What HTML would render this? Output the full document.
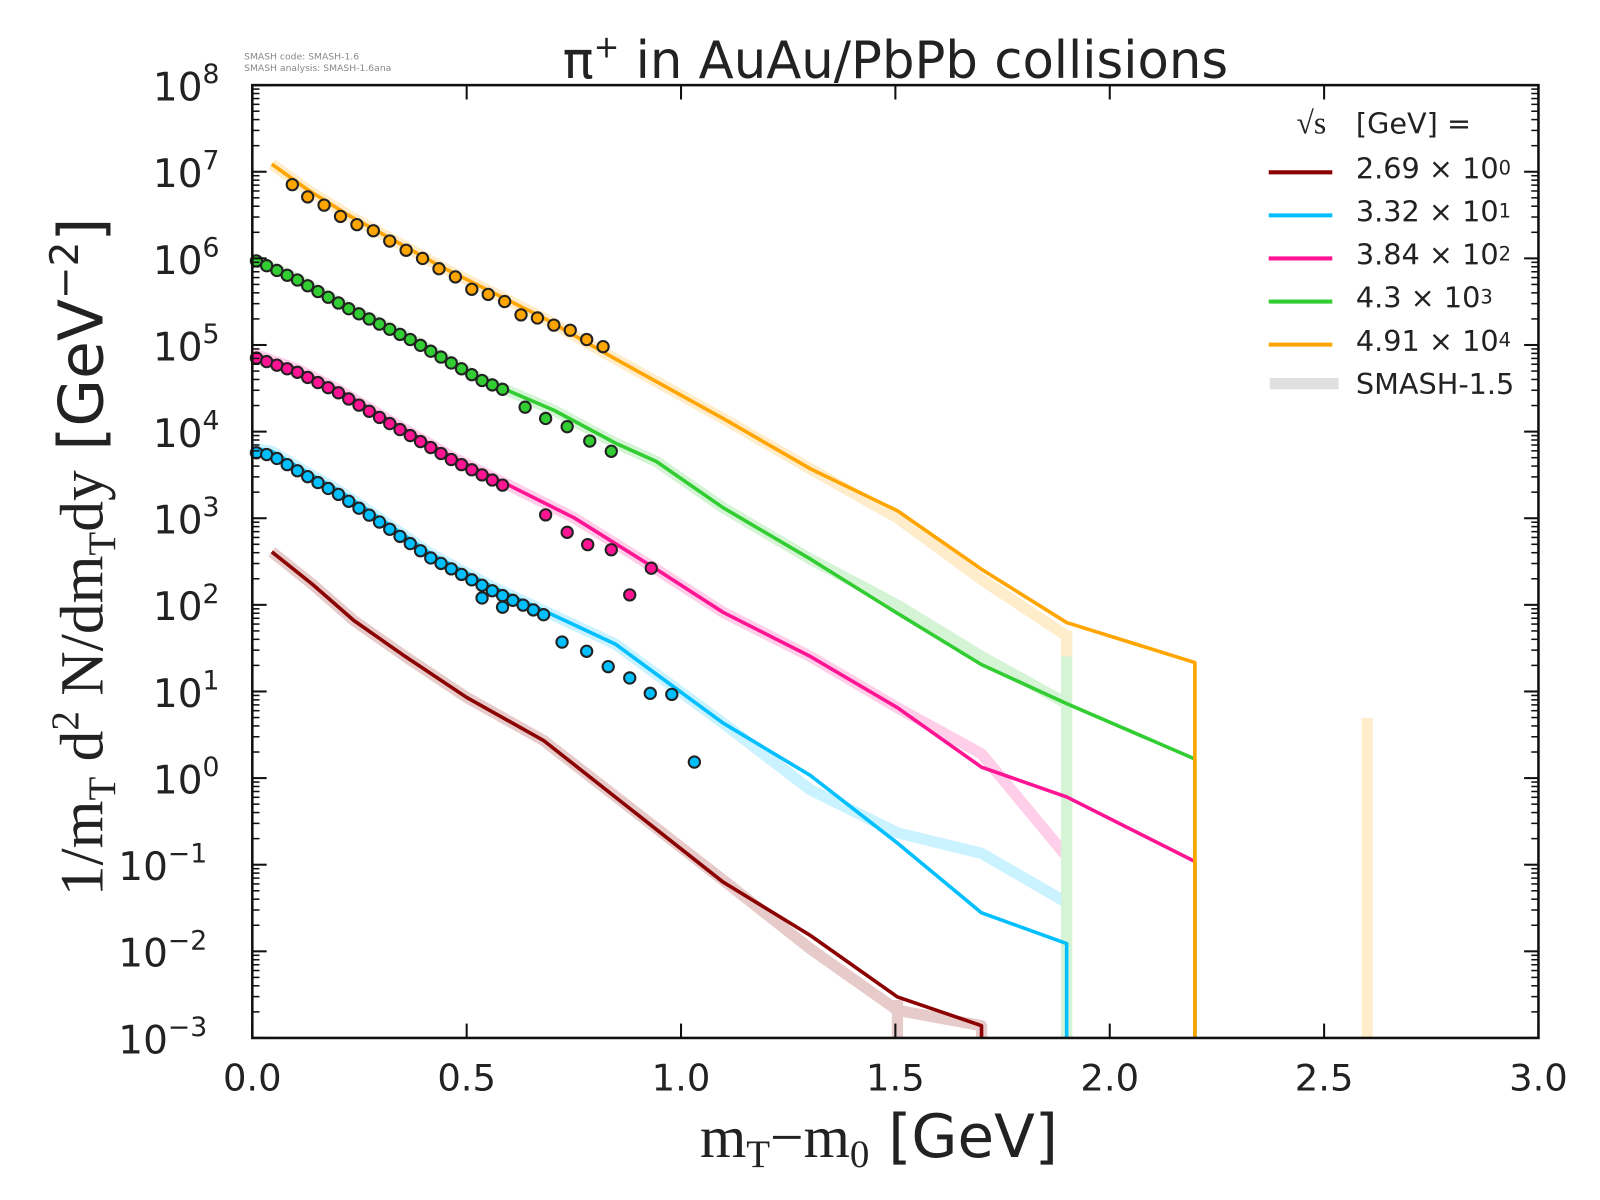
<!DOCTYPE html>
<html><head><meta charset="utf-8"><style>
html,body{margin:0;padding:0;background:#fff}
svg{display:block}
text{font-family:"DejaVu Sans","Liberation Sans",sans-serif;fill:#222}
</style></head><body>
<svg id="s" width="1600" height="1200" xmlns="http://www.w3.org/2000/svg">
<rect width="1600" height="1200" fill="#fff"/>
<g transform="scale(1.02564)">
<text x="238" y="58" font-size="9" style="fill:#888">SMASH code:      SMASH-1.6</text>
<text x="238" y="69" font-size="9" style="fill:#888">SMASH analysis: SMASH-1.6ana</text>
<text x="873" y="76" font-size="50" text-anchor="middle">π<tspan font-size="30" dy="-20">+</tspan><tspan dy="20"> in AuAu/PbPb collisions</tspan></text>
<g id="faint" fill="none" stroke-width="11" stroke-linejoin="round" opacity="0.2"></g>
<g id="lines" fill="none" stroke-width="3.5" stroke-linejoin="round"></g>
<g id="pts" stroke="#222" stroke-width="2"></g>
<g id="ax"></g>
<text x="857" y="1128" font-size="58" text-anchor="middle"><tspan style="font-family:'Liberation Serif',serif">m<tspan font-size="38" dy="10">T</tspan><tspan dy="-10">−m</tspan><tspan font-size="38" dy="10">0</tspan></tspan><tspan dy="-10"> [GeV]</tspan></text>
<g transform="translate(100,543) rotate(-90)">
<text x="0" y="0" font-size="60" text-anchor="middle"><tspan style="font-family:'Liberation Serif',serif">1/m<tspan font-size="38" dy="12">T</tspan><tspan dy="-12"> d</tspan><tspan font-size="38" dy="-24">2</tspan><tspan dy="24"> N/dm</tspan><tspan font-size="38" dy="12">T</tspan><tspan dy="-12">dy</tspan></tspan> [GeV<tspan font-size="38" dy="-24">−2</tspan><tspan dy="24">]</tspan></text>
</g>
<g font-size="28">
<text x="1264" y="130" font-size="31" style="font-family:'Liberation Serif',serif">√s</text>
<text x="1322" y="130">[GeV] =</text>
<text x="1322" y="174">2.69 × 10<tspan font-size="19" dy="-4">0</tspan></text>
<text x="1322" y="216">3.32 × 10<tspan font-size="19" dy="-4">1</tspan></text>
<text x="1322" y="258">3.84 × 10<tspan font-size="19" dy="-4">2</tspan></text>
<text x="1322" y="300">4.3 × 10<tspan font-size="19" dy="-4">3</tspan></text>
<text x="1322" y="342">4.91 × 10<tspan font-size="19" dy="-4">4</tspan></text>
<text x="1322" y="384">SMASH-1.5</text>
</g>
<g stroke-width="4">
<line x1="1267" y1="168" x2="1329" y2="168" stroke="#8b0000" transform="translate(-30,0)"/>
<line x1="1267" y1="210" x2="1329" y2="210" stroke="#00bfff" transform="translate(-30,0)"/>
<line x1="1267" y1="252" x2="1329" y2="252" stroke="#ff1493" transform="translate(-30,0)"/>
<line x1="1267" y1="294" x2="1329" y2="294" stroke="#32cd32" transform="translate(-30,0)"/>
<line x1="1267" y1="336" x2="1329" y2="336" stroke="#ffa500" transform="translate(-30,0)"/>
<line x1="1238" y1="374" x2="1305" y2="374" stroke="#e0e0e0" stroke-width="11"/>
</g>
</g>
</svg>
<script>
const NS="http://www.w3.org/2000/svg";
function el(p,t,a){const e=document.createElementNS(NS,t);for(const k in a)e.setAttribute(k,a[k]);p.appendChild(e);return e;}
const L=246,R=1500,T=83,B=1012,D=(B-T)/11;
const ax=document.getElementById('ax');
el(ax,'rect',{x:L,y:T,width:R-L,height:B-T,fill:'none',stroke:'#111','stroke-width':2.5});
for(let n=0;n<=11;n++){const y=T+n*D;
 el(ax,'line',{x1:L,y1:y,x2:L+14,y2:y,stroke:'#111','stroke-width':2});
 el(ax,'line',{x1:R,y1:y,x2:R-14,y2:y,stroke:'#111','stroke-width':2});
 if(n<11)for(let m=2;m<10;m++){const yy=T+(n+1)*D-Math.log10(m)*D;
  el(ax,'line',{x1:L,y1:yy,x2:L+7,y2:yy,stroke:'#111','stroke-width':1.5});
  el(ax,'line',{x1:R,y1:yy,x2:R-7,y2:yy,stroke:'#111','stroke-width':1.5});}
 const e=8-n;const t=el(ax,'text',{x:215,y:y+15,'font-size':38,'text-anchor':'end'});
 t.textContent='10';const s=el(t,'tspan',{'font-size':26,dy:-17});s.textContent=String(e).replace('-','−');
 t.setAttribute('x',e<0?202:214);
}
for(let i=0;i<=6;i++){const x=L+i*(R-L)/6;
 el(ax,'line',{x1:x,y1:B,x2:x,y2:B-14,stroke:'#111','stroke-width':2});
 el(ax,'line',{x1:x,y1:T,x2:x,y2:T+14,stroke:'#111','stroke-width':2});
 const t=el(ax,'text',{x:x,y:1063,'font-size':36,'text-anchor':'middle'});t.textContent=(i*0.5).toFixed(1);}
const S={
dr:{c:'#8b0000',l:[[265,538],[305,570],[345,605],[395,640],[455,680],[530,722],[705,860],[790,912],[875,972],[957,1000],[957,1012]]},
bl:{c:'#00bfff',l:[[247,437],[265,440],[290,455],[330,478],[370,505],[420,540],[480,572],[540,600],[600,628],[705,705],[790,756],[875,822],[957,890],[1040,920],[1040,1012]]},
pk:{c:'#ff1493',l:[[247,345],[290,360],[330,380],[380,410],[440,445],[500,475],[560,505],[640,555],[705,597],[790,640],[875,690],[957,748],[1040,777],[1165,840],[1165,1012]]},
gr:{c:'#32cd32',l:[[247,252],[290,272],[340,300],[400,330],[470,370],[540,400],[600,432],[640,450],[705,495],[790,545],[875,598],[957,648],[1040,686],[1165,740],[1165,1012]]},
or:{c:'#ffa500',l:[[265,160],[300,185],[340,210],[380,232],[430,260],[480,285],[530,310],[600,350],[705,408],[790,457],[875,498],[957,555],[1040,607],[1165,646],[1165,1012]]}};
const fa=document.getElementById('faint'),li=document.getElementById('lines'),pt=document.getElementById('pts');
const fdev={dr:[[705,858],[790,925],[875,985]],bl:[[790,770],[875,812],[957,832],[1040,880]],pk:[[957,735],[1040,835]],gr:[[875,590],[957,640]],or:[[875,505],[957,565],[1040,620]]};
for(const k in S){const s=S[k];
 let fl=s.l.filter(p=>p[0]<1041).map(p=>{const d=(fdev[k]||[]).find(q=>q[0]==p[0]);return d?d:p;});
 el(fa,'polyline',{points:fl.map(p=>p.join(',')).join(' '),stroke:s.c});
 el(li,'polyline',{points:s.l.map(p=>p.join(',')).join(' '),stroke:s.c});}
el(fa,'line',{x1:1040,y1:615,x2:1040,y2:1012,stroke:'#ffa500'});
el(fa,'line',{x1:1040,y1:640,x2:1040,y2:1012,stroke:'#32cd32'});
el(fa,'line',{x1:875,y1:975,x2:875,y2:1012,stroke:'#8b0000'});
el(fa,'line',{x1:1333,y1:700,x2:1333,y2:1012,stroke:'#ffa500'});
function interp(l,x){for(let i=0;i<l.length-1;i++){if(x>=l[i][0]&&x<=l[i+1][0]){const f=(x-l[i][0])/(l[i+1][0]-l[i][0]);return l[i][1]+f*(l[i+1][1]-l[i][1]);}}return l[0][1];}
function dots(c,arr){arr.forEach(p=>el(pt,'circle',{cx:p[0],cy:p[1],r:5.5,fill:c}));}
let b=[];for(let x=250;x<=532;x+=10)b.push([x,interp(S.bl.l,x)+4]);
b.push([470,583],[490,592],[548,626],[572,635],[593,650],[614,661],[634,676],[655,677],[677,743]);dots('#00bfff',b);
let p=[];for(let x=250;x<=490;x+=10)p.push([x,interp(S.pk.l,x)+3]);
p.push([532,502],[553,519],[573,531],[596,536],[614,580],[635,554]);dots('#ff1493',p);
let g=[];for(let x=250;x<=490;x+=10)g.push([x,interp(S.gr.l,x)+1]);
g.push([512,397],[532,408],[553,416],[575,430],[596,440]);dots('#32cd32',g);
let o=[[285,180],[300,192],[316,200],[332,211],[348,219],[364,225],[380,235],[396,244],[412,252],[428,262],[444,270],[460,282],[476,287],[492,294],[508,307],[524,310],[540,317],[556,322],[572,331],[588,338]];dots('#ffa500',o);
</script>
</body></html>
